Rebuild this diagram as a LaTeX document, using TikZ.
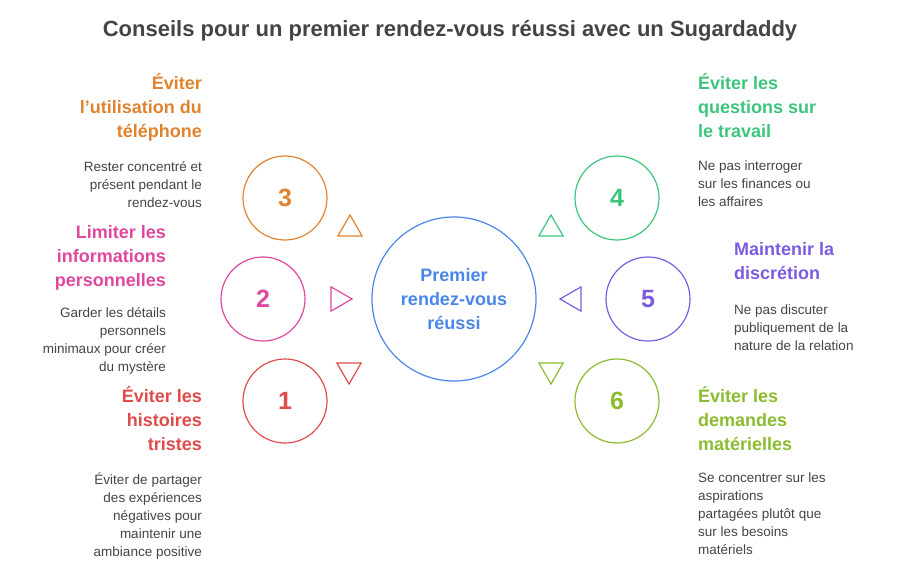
\documentclass[tikz,border=0pt]{standalone}
\usepackage{fontspec}
\setmainfont{Liberation Sans}
\usetikzlibrary{shapes.geometric}
\definecolor{cor}{HTML}{E0832F}
\definecolor{cpk}{HTML}{E0479E}
\definecolor{crd}{HTML}{E04B4B}
\definecolor{cgr}{HTML}{3CC47C}
\definecolor{cpu}{HTML}{7B5CE0}
\definecolor{col}{HTML}{8BBB2E}
\definecolor{cbl}{HTML}{4A86E8}
\definecolor{tx}{HTML}{444444}
\begin{document}
\begin{tikzpicture}[x=1pt,y=-1pt,
 small/.style={circle,draw=#1,text=#1,line width=1.2pt,minimum size=84pt,font=\bfseries\fontsize{25}{25}\selectfont},
 tri/.style={regular polygon,regular polygon sides=3,draw=#1,line width=1.2pt,minimum size=28pt,inner sep=0pt},
 head/.style={text=#1,font=\bfseries\fontsize{18}{24}\selectfont,inner sep=0pt},
 body/.style={text=tx,font=\fontsize{13.5}{18}\selectfont,inner sep=0pt}]
\useasboundingbox (0,0) rectangle (900,576);
\node[text=tx,font=\bfseries\fontsize{22}{24}\selectfont] (title) at (450,31) {Conseils pour un premier rendez-vous réussi avec un Sugardaddy};
\node[circle,draw=cbl,line width=1.2pt,minimum size=164pt,text=cbl,align=center,font=\bfseries\fontsize{18}{24}\selectfont] (c) at (454,299) {Premier\\rendez-vous\\réussi};
\node[small=cor] (n3) at (285,198) {3};
\node[small=cpk] (n2) at (263,299) {2};
\node[small=crd] (n1) at (285,401) {1};
\node[small=cgr] (n4) at (617,198) {4};
\node[small=cpu] (n5) at (648,299) {5};
\node[small=col] (n6) at (617,401) {6};
\node[tri=cor] (t3) at (350,229) {};
\node[tri=cpk,shape border rotate=-90] (t2) at (338,299) {};
\node[tri=crd,shape border rotate=180] (t1) at (349,370) {};
\node[tri=cgr] (t4) at (551,229) {};
\node[tri=cpu,shape border rotate=90] (t5) at (574,299) {};
\node[tri=col,shape border rotate=180] (t6) at (551,370) {};
% left texts
\node[head=cor,align=right,anchor=north east] (h3) at (202,73) {Éviter\\l{\char"27}utilisation du\\téléphone};
\node[body,align=right,anchor=north east] (b3) at (202,161) {Rester concentré et\\présent pendant le\\rendez-vous};
\node[head=cpk,align=right,anchor=north east] (h2) at (166,225) {Limiter les\\informations\\personnelles};
\node[body,align=right,anchor=north east] (b2) at (166,307) {Garder les détails\\personnels\\minimaux pour créer\\du mystère};
\node[head=crd,align=right,anchor=north east] (h1) at (202,386) {Éviter les\\histoires\\tristes};
\node[body,align=right,anchor=north east] (b1) at (202,473) {Éviter de partager\\des expériences\\négatives pour\\maintenir une\\ambiance positive};
% right texts
\node[head=cgr,align=left,anchor=north west] (h4) at (698,73) {Éviter les\\questions sur\\le travail};
\node[body,align=left,anchor=north west] (b4) at (698,161) {Ne pas interroger\\sur les finances ou\\les affaires};
\node[head=cpu,align=left,anchor=north west] (h5) at (734,242) {Maintenir la\\discrétion};
\node[body,align=left,anchor=north west] (b5) at (734,305) {Ne pas discuter\\publiquement de la\\nature de la relation};
\node[head=col,align=left,anchor=north west] (h6) at (698,386) {Éviter les\\demandes\\matérielles};
\node[body,align=left,anchor=north west] (b6) at (698,473) {Se concentrer sur les\\aspirations\\partagées plutôt que\\sur les besoins\\matériels};
\end{tikzpicture}
\end{document}
